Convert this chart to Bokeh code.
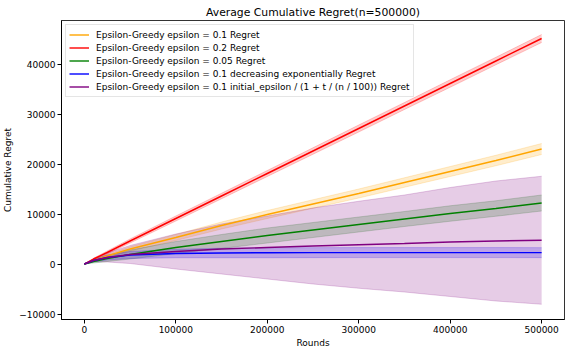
from bokeh.plotting import figure
from bokeh.models import FixedTicker, NumeralTickFormatter, Legend, LegendItem, Range1d
from bokeh.embed import file_html
from bokeh.resources import INLINE

rounds = [0, 10000, 25000, 50000, 100000, 150000, 200000, 250000, 300000, 350000, 400000, 450000, 500000]

labels = [
    "Epsilon-Greedy epsilon = 0.1 Regret",
    "Epsilon-Greedy epsilon = 0.2 Regret",
    "Epsilon-Greedy epsilon = 0.05 Regret",
    "Epsilon-Greedy epsilon = 0.1 decreasing exponentially Regret",
    "Epsilon-Greedy epsilon = 0.1 initial_epsilon / (1 + t / (n / 100)) Regret",
]
colors = ["#FFA500", "#FF0000", "#008000", "#0000FF", "#800080"]

eps01_mean = [0, 700, 1600, 3000, 5300, 7700, 9900, 12000, 14100, 16300, 18500, 20700, 23000]
eps01_std = [0, 150, 300, 450, 600, 700, 800, 850, 900, 950, 1000, 1050, 1100]
eps02_mean = [0, 1000, 2300, 4600, 9100, 13600, 18100, 22600, 27100, 31600, 36100, 40600, 45100]
eps02_std = [0, 150, 300, 400, 500, 550, 600, 650, 700, 700, 750, 750, 800]
eps005_mean = [0, 500, 1100, 1900, 3300, 4500, 5700, 6800, 7900, 9000, 10100, 11100, 12200]
eps005_std = [0, 300, 600, 900, 1200, 1400, 1500, 1500, 1500, 1500, 1550, 1550, 1600]
decexp_mean = [0, 700, 1300, 1800, 2100, 2200, 2250, 2270, 2280, 2280, 2280, 2280, 2270]
decexp_std = [0, 300, 500, 700, 850, 950, 1000, 1000, 1000, 1000, 1000, 1000, 1000]
decinv_mean = [0, 700, 1300, 1900, 2500, 3000, 3300, 3600, 3850, 4100, 4400, 4600, 4750]
decinv_std = [0, 300, 900, 1800, 3500, 5000, 6300, 7600, 8700, 9700, 10900, 12000, 12800]

means = [eps01_mean, eps02_mean, eps005_mean, decexp_mean, decinv_mean]
stds = [eps01_std, eps02_std, eps005_std, decexp_std, decinv_std]

xticks = [0, 100000, 200000, 300000, 400000, 500000]
yticks = [-10000, 0, 10000, 20000, 30000, 40000]

FONT = "DejaVu Sans"

p = figure(width=571, height=354, output_backend="svg", toolbar_location=None,
           x_range=Range1d(-25000, 525000), y_range=Range1d(-11100, 48700),
           min_border_left=0, min_border_right=7, min_border_top=20, min_border_bottom=35)

p.title.text = "Average Cumulative Regret(n=500000)"
p.title.text_font = FONT
p.title.text_font_size = "10.8px"
p.title.text_font_style = "normal"
p.title.align = "center"
p.title.text_color = "black"
p.title.standoff = 3

p.xgrid.visible = False
p.ygrid.visible = False
p.outline_line_color = "black"
p.outline_line_alpha = 0.8

for ax, ticks in ((p.xaxis[0], xticks), (p.yaxis[0], yticks)):
    ax.ticker = FixedTicker(ticks=ticks)
    ax.formatter = NumeralTickFormatter(format="0")
    ax.major_label_text_font = FONT
    ax.major_label_text_font_size = "9px"
    ax.major_label_text_color = "black"
    ax.axis_label_text_font = FONT
    ax.axis_label_text_font_size = "9px"
    ax.axis_label_text_font_style = "normal"
    ax.axis_label_text_color = "black"
    ax.major_tick_in = 0
    ax.major_tick_out = 4
    ax.minor_tick_line_color = None
    ax.axis_line_color = "black"
    ax.major_label_standoff = 2
p.yaxis[0].major_label_overrides = {-10000: "\u221210000"}
p.xaxis.axis_label = "Rounds"
p.yaxis.axis_label = "Cumulative Regret"
p.xaxis.axis_label_standoff = 2
p.yaxis.axis_label_standoff = 3

for m, s, c in zip(means, stds, colors):
    lo = [a - b for a, b in zip(m, s)]
    hi = [a + b for a, b in zip(m, s)]
    p.varea(x=rounds, y1=lo, y2=hi, fill_color=c, fill_alpha=0.2)
    p.line(rounds, lo, line_color=c, line_alpha=0.2, line_width=1)
    p.line(rounds, hi, line_color=c, line_alpha=0.2, line_width=1)

items = []
for m, c, lab in zip(means, colors, labels):
    r = p.line(rounds, m, line_color=c, line_width=1.4)
    items.append(LegendItem(label=lab, renderers=[r]))

legend = Legend(items=items, location="top_left")
legend.label_text_font = FONT
legend.label_text_font_size = "9px"
legend.label_text_color = "black"
legend.glyph_width = 20
legend.glyph_height = 13
legend.label_height = 13
legend.spacing = 0
legend.padding = 3
legend.margin = 4
legend.label_standoff = 7
legend.border_line_color = "#cccccc"
legend.background_fill_alpha = 0.8
p.add_layout(legend, "center")

open("out.html", "w").write(file_html(p, INLINE))
